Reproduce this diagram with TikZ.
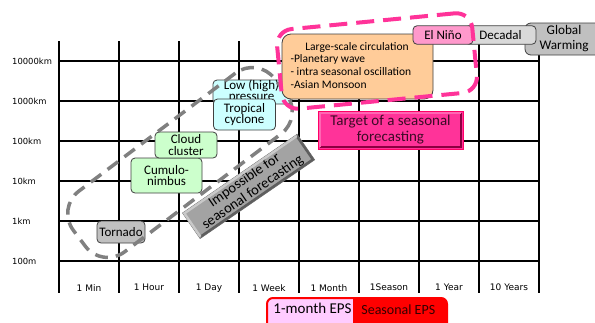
\documentclass[tikz,border=0pt]{standalone}
\usepackage{fontspec}
\setmainfont{Carlito}
\newfontfamily\axisfont{DejaVu Sans}
\newcommand\myfs[2]{\fontsize{#1bp}{#2bp}\selectfont}
\definecolor{grn}{HTML}{CCFFCC}
\definecolor{cyn}{HTML}{CCFFFF}
\definecolor{org}{HTML}{FFCC99}
\definecolor{pnk}{HTML}{FF99CC}
\definecolor{lgr}{HTML}{D9D9D9}
\definecolor{mgr}{HTML}{C0C0C0}
\definecolor{hot}{HTML}{FF3399}
\definecolor{hotline}{HTML}{FF0066}
\definecolor{hotdark}{HTML}{8C0040}
\definecolor{hotlight}{HTML}{FF66B3}
\definecolor{lil}{HTML}{FFCCFF}
\definecolor{impg}{HTML}{A3A3A3}
\definecolor{impdark}{HTML}{5E5E5E}
\definecolor{implight}{HTML}{C9C9C9}
\definecolor{dashg}{HTML}{808080}
\definecolor{tgttext}{HTML}{3D0A26}
\definecolor{epstext}{HTML}{330000}
\begin{document}
\begin{tikzpicture}[x=1bp, y=-1bp,
  grid/.style={line width=1.3bp, black},
  ylab/.style={anchor=west, font=\axisfont\myfs{8.4}{10}, inner sep=0},
  xlab/.style={font=\axisfont\myfs{9}{10}, inner sep=0},
  box/.style={draw=black!75, line width=0.8bp, rounded corners=4bp, inner sep=0, align=center, font=\myfs{13}{11.5}},
  txt/.style={inner sep=0, align=center},
]
\useasboundingbox (0,0) rectangle (595,322);
\fill[white] (0,0) rectangle (595,322);

% grid
\foreach \x in {59,119,...,539} \draw[grid] (\x,41) -- (\x,293);
\foreach \y in {61,101,...,261} \draw[grid] (59,\y) -- (539,\y);

% axis labels
\foreach \y/\t [count=\i] in {61/10000km,101/1000km,141/100km,181/10km,221/1km,261/100m}
  \node[ylab] (yl\i) at (12,\y) {\t};
\foreach \x/\t [count=\i] in {89/1 Min,149/1 Hour,209/1 Day,269/1 Week,329/1 Month,389/1Season,449/1 Year,509/10 Years}
  \node[xlab] (xl\i) at (\x,287.7) {\t};

% phenomena boxes
\node[box, fill=mgr, minimum width=48bp, minimum height=22bp] (tornado) at (121,232) {Tornado};
\node[box, fill=grn, minimum width=71bp, minimum height=35bp] (cumulo) at (166.5,175.5) {Cumulo-\\nimbus};
\node[box, fill=grn, minimum width=62bp, minimum height=26bp] (cloud) at (186,145) {Cloud\\cluster};
\node[box, fill=cyn, minimum width=79bp, minimum height=24bp] (low) at (252.5,92) {};
\node[txt, font=\myfs{13}{11}] (lowtxt) at (251.5,91.5) {Low (high)\\pressure};
\node[box, fill=cyn, minimum width=62bp, minimum height=31bp] (tropical) at (244.5,114.5) {Tropical\\cyclone};

% gray dashed zone
\node[draw=dashg, line width=3.5bp, dash pattern=on 13bp off 8bp, rounded corners=28bp,
      minimum width=252bp, minimum height=76bp, rotate=37] (shortzone) at (180,162.5) {};

% impossible box
\node[draw=black!55, line width=0.6bp, fill=impg, inner sep=0, align=center, font=\myfs{14.5}{14.5},
      minimum width=139bp, minimum height=31bp, rotate=34.5] (imp) at (248.6,186.4) {Impossible for\\seasonal forecasting};
\begin{scope}[shift={(248.6,186.4)}, rotate=34.5]
  \draw[line width=2.4bp, impdark] (-68.2,14.2) -- (68.2,14.2) -- (68.2,-14.2);
  \draw[line width=2.4bp, implight] (-68.2,14.2) -- (-68.2,-14.2) -- (68.2,-14.2);
\end{scope}

% large-scale circulation
\node[box, fill=org, rounded corners=9bp, minimum width=151bp, minimum height=65bp] (lsc) at (357.5,66.5) {};
\node[txt, font=\myfs{11.5}{12}] (lsct) at (357,47.3) {Large-scale circulation};
\node[txt, anchor=west, font=\myfs{11.5}{12}] (pw) at (290.3,59.5) {-Planetary wave};
\node[txt, anchor=west, font=\myfs{11.5}{12}] (iso) at (290.3,72) {- intra seasonal oscillation};
\node[txt, anchor=west, font=\myfs{11.5}{12}] (am) at (290.3,85) {-Asian Monsoon};

% time scale boxes
\node[box, fill=mgr, rounded corners=6bp, minimum width=78bp, minimum height=32bp, font=\myfs{13.2}{15}] (gw) at (564,39) {Global\\Warming};
\node[box, fill=lgr, minimum width=71bp, minimum height=18.5bp] (dec) at (500.5,35) {Decadal};
\node[box, fill=pnk, minimum width=60bp, minimum height=18.5bp] (nino) at (443,35) {El Niño};

% target box
\node[draw=hotline, line width=1bp, fill=hot, inner sep=0, align=center, font=\myfs{15}{16},
      text=tgttext, minimum width=145bp, minimum height=38bp] (target) at (390.5,130) {Target of a seasonal\\forecasting};
\draw[line width=2.4bp, hotdark] (320.2,146.8) -- (460.8,146.8) -- (460.8,113.2);
\draw[line width=2.4bp, hotlight] (320.2,146.8) -- (320.2,113.2) -- (460.8,113.2);

% pink dashed zone
\node[draw=hot, line width=4bp, dash pattern=on 18bp off 9bp, rounded corners=16bp,
      minimum width=196bp, minimum height=80bp, rotate=5.5] (seaszone) at (377,61) {};

% EPS boxes
\begin{scope}
  \clip[rounded corners=6bp] (267,298) rectangle (447,336);
  \node[fill=lil, inner sep=0, minimum width=86bp, minimum height=38bp, anchor=north west] (onem) at (267,298) {};
  \node[fill=red, inner sep=0, minimum width=94bp, minimum height=38bp, anchor=north west] (seas) at (353,298) {};
\end{scope}
\draw[red, line width=2bp, rounded corners=6bp] (267,298) rectangle (447,336);
\node[txt, font=\myfs{15}{16}] (onemt) at (312.5,308.5) {1-month EPS};
\node[txt, font=\myfs{14}{16}, text=epstext] (seast) at (398.3,309.5) {Seasonal EPS};
\end{tikzpicture}
\end{document}
